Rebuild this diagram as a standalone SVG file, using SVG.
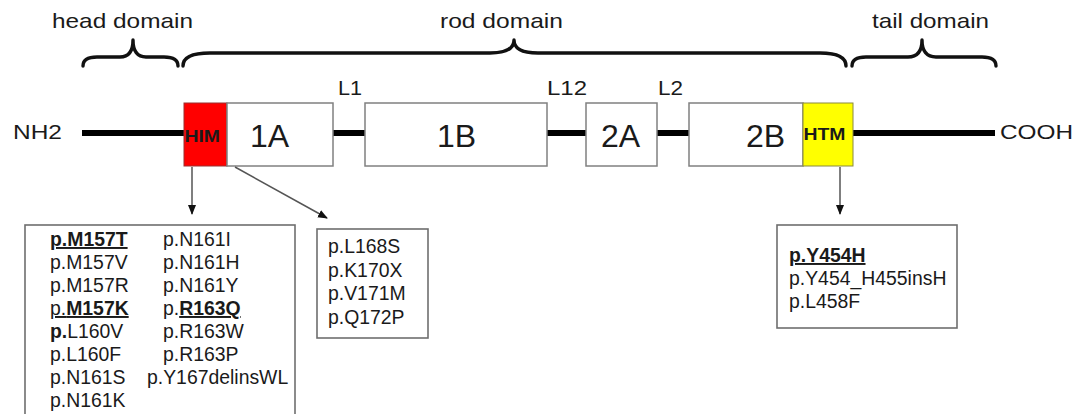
<svg xmlns="http://www.w3.org/2000/svg" width="1086" height="414" viewBox="0 0 1086 414">
  <style>
    text { font-family: "Liberation Sans", Arial, sans-serif; fill: #1a1a1a; }
    .lbl { font-size: 21px; }
    .seg { font-size: 32px; }
    .tag { font-size: 16px; font-weight: bold; }
    .mut { font-size: 19.4px; }
    .b { font-weight: bold; }
    .u { text-decoration: underline; }
    .brace { fill: none; stroke: #111; stroke-width: 3.4; stroke-linecap: round; stroke-linejoin: round; }
    .chain { stroke: #000; stroke-width: 6; }
    .box { fill: #fff; stroke: #808080; stroke-width: 1.5; }
    .list { fill: #fff; stroke: #6e6e6e; stroke-width: 1.6; }
    .arrow { stroke: #555; stroke-width: 1.5; fill: none; marker-end: url(#head); }
  </style>
  <defs>
    <marker id="head" markerUnits="userSpaceOnUse" markerWidth="10" markerHeight="10" viewBox="0 0 10 10" refX="9" refY="5" orient="auto">
      <path d="M0,1 L10,5 L0,9 Z" fill="#111"/>
    </marker>
  </defs>

  <!-- domain braces and captions -->
  <g id="head-domain">
    <text class="lbl" x="52" y="28" textLength="141" lengthAdjust="spacingAndGlyphs">head domain</text>
    <path class="brace" d="M83,66 Q83,57 97,57 L120,57 Q133,57 133,40 Q133,57 146,57 L164,57 Q178,57 178,66"/>
  </g>
  <g id="rod-domain">
    <text class="lbl" x="440" y="28" textLength="123" lengthAdjust="spacingAndGlyphs">rod domain</text>
    <path class="brace" d="M183,66 Q183,53 210,53 L490,53 Q514,53 514,40 Q514,53 538,53 L820,53 Q846,53 846,66"/>
  </g>
  <g id="tail-domain">
    <text class="lbl" x="872" y="28" textLength="117" lengthAdjust="spacingAndGlyphs">tail domain</text>
    <path class="brace" d="M852,66 Q852,57 866,57 L908,57 Q922,57 922,40 Q922,57 936,57 L982,57 Q996,57 996,66"/>
  </g>

  <!-- polypeptide chain -->
  <g id="chain">
    <line class="chain" x1="82" y1="133" x2="995" y2="133"/>
    <text class="lbl" x="13" y="139" textLength="49" lengthAdjust="spacingAndGlyphs">NH2</text>
    <text class="lbl" x="1000" y="139" textLength="73" lengthAdjust="spacingAndGlyphs">COOH</text>
    <text class="lbl" x="338" y="95" textLength="24" lengthAdjust="spacingAndGlyphs">L1</text>
    <text class="lbl" x="547" y="95" textLength="40" lengthAdjust="spacingAndGlyphs">L12</text>
    <text class="lbl" x="658" y="95" textLength="25" lengthAdjust="spacingAndGlyphs">L2</text>
  </g>

  <g id="him">
    <rect x="184" y="103" width="43" height="63" fill="#ff0000" stroke="#9a3030" stroke-width="1"/>
    <text class="tag" x="184.5" y="141.5" textLength="35.5" lengthAdjust="spacingAndGlyphs">HIM</text>
  </g>
  <g id="seg-1A">
    <rect class="box" x="227" y="103" width="106" height="63"/>
    <text class="seg" x="250" y="147">1A</text>
  </g>
  <g id="seg-1B">
    <rect class="box" x="365" y="103" width="182" height="63"/>
    <text class="seg" x="437" y="147">1B</text>
  </g>
  <g id="seg-2A">
    <rect class="box" x="586" y="103" width="71" height="63"/>
    <text class="seg" x="601" y="147">2A</text>
  </g>
  <g id="seg-2B">
    <rect class="box" x="689" y="103" width="114" height="63"/>
    <text class="seg" x="746" y="147">2B</text>
  </g>
  <g id="htm">
    <rect x="803" y="103" width="50" height="63" fill="#ffff00" stroke="#8a8a40" stroke-width="1"/>
    <text class="tag" x="803.5" y="140" textLength="42" lengthAdjust="spacingAndGlyphs">HTM</text>
  </g>

  <!-- connectors to mutation lists -->
  <g id="connectors">
    <line class="arrow" x1="192" y1="167" x2="192" y2="214"/>
    <line class="arrow" x1="235" y1="167" x2="327" y2="218"/>
    <line class="arrow" x1="840" y1="167" x2="840" y2="214"/>
  </g>

  <!-- mutations in the helix initiation motif -->
  <g id="list-him">
    <rect class="list" x="25" y="225" width="270" height="200"/>
    <text class="mut">
      <tspan x="50" y="246" class="b u">p.M157T</tspan>
      <tspan x="50" y="269">p.M157V</tspan>
      <tspan x="50" y="292">p.M157R</tspan>
      <tspan x="50" y="315" class="u">p.<tspan class="b">M157K</tspan></tspan>
      <tspan x="50" y="338"><tspan class="b">p.</tspan>L160V</tspan>
      <tspan x="50" y="361">p.L160F</tspan>
      <tspan x="50" y="384">p.N161S</tspan>
      <tspan x="50" y="407">p.N161K</tspan>
    </text>
    <text class="mut">
      <tspan x="163" y="246">p.N161I</tspan>
      <tspan x="163" y="269">p.N161H</tspan>
      <tspan x="163" y="292">p.N161Y</tspan>
      <tspan x="163" y="315">p.<tspan class="b u">R163Q</tspan></tspan>
      <tspan x="163" y="338">p.R163W</tspan>
      <tspan x="163" y="361">p.R163P</tspan>
      <tspan x="147" y="384">p.Y167delinsWL</tspan>
    </text>
  </g>

  <!-- mutations in segment 1A -->
  <g id="list-1a">
    <rect class="list" x="317" y="229" width="111" height="109"/>
    <text class="mut">
      <tspan x="328" y="253">p.L168S</tspan>
      <tspan x="328" y="276.5">p.K170X</tspan>
      <tspan x="328" y="300">p.V171M</tspan>
      <tspan x="328" y="323.5">p.Q172P</tspan>
    </text>
  </g>

  <!-- mutations in the helix termination motif -->
  <g id="list-htm">
    <rect class="list" x="777" y="225" width="180" height="103"/>
    <text class="mut">
      <tspan x="789" y="262" class="b u">p.Y454H</tspan>
      <tspan x="789" y="285">p.Y454_H455insH</tspan>
      <tspan x="789" y="308">p.L458F</tspan>
    </text>
  </g>
</svg>
